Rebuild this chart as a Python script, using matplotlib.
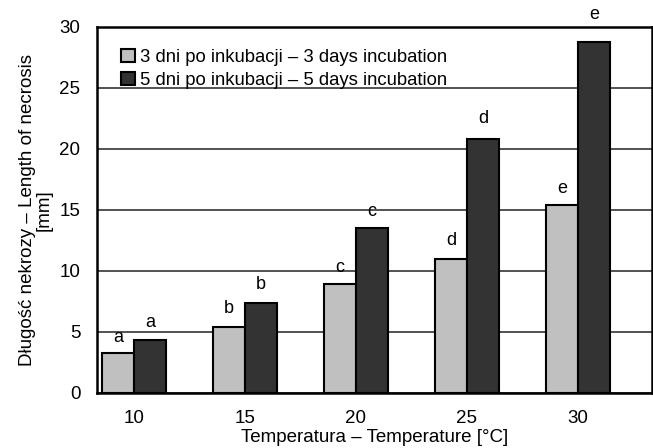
import numpy as np
import matplotlib.pyplot as plt

plt.rcParams['font.family'] = ['Liberation Sans', 'DejaVu Sans']

temps = ['10', '15', '20', '25', '30']
days3 = [3.3, 5.4, 8.9, 11.0, 15.4]
days5 = [4.3, 7.4, 13.5, 20.8, 28.8]
letters3 = ['a', 'b', 'c', 'd', 'e']
letters5 = ['a', 'b', 'c', 'd', 'e']
labels = ['3 dni po inkubacji – 3 days incubation',
          '5 dni po inkubacji – 5 days incubation']

fig = plt.figure(figsize=(6.53, 4.48), dpi=100)
ax = fig.add_axes([0.1485, 0.123, 0.85, 0.817])

x = np.arange(len(temps))
w = 0.29
b1 = ax.bar(x - w / 2, days3, w, color='#c0c0c0', edgecolor='black', linewidth=1.5,
            label=labels[0], zorder=3)
b2 = ax.bar(x + w / 2, days5, w, color='#333333', edgecolor='black', linewidth=1.5,
            label=labels[1], zorder=3)

# letter offsets in points (the top one sits above the frame in the original)
for bars, lets, offs in ((b1, letters3, [5, 7, 6, 7, 6]), (b2, letters5, [7, 7, 6, 9, 13])):
    for rect, t, o in zip(bars, lets, offs):
        ax.annotate(t, (rect.get_x() + rect.get_width() / 2, rect.get_height()),
                    xytext=(0, o), textcoords='offset points', ha='center', va='bottom',
                    fontsize=13, annotation_clip=False)

ax.set_ylim(0, 30)
ax.set_xlim(-0.333, 4.667)
ax.set_yticks([0, 5, 10, 15, 20, 25, 30])
ax.set_xticks(x)
ax.set_xticklabels(temps)
ax.tick_params(length=0, labelsize=13.5)
ax.tick_params(axis='y', pad=12)
ax.tick_params(axis='x', pad=12)
ax.yaxis.grid(True, color='#444444', linewidth=1.3, zorder=0)
ax.set_axisbelow(True)
for s in ax.spines.values():
    s.set_linewidth(1.8)

ax.set_xlabel('Temperatura – Temperature [°C]', fontsize=13.5, labelpad=2)
ax.set_ylabel('Długość nekrozy – Length of necrosis\n[mm]', fontsize=13.5,
              linespacing=0.95, labelpad=5)

leg = ax.legend(loc='upper left', frameon=False, fontsize=13.3, handlelength=0.75,
                handleheight=0.75, handletextpad=0.3, labelspacing=0.3,
                borderaxespad=0.3, bbox_to_anchor=(0.02, 0.975))

fig.savefig('out.png', dpi=100)
